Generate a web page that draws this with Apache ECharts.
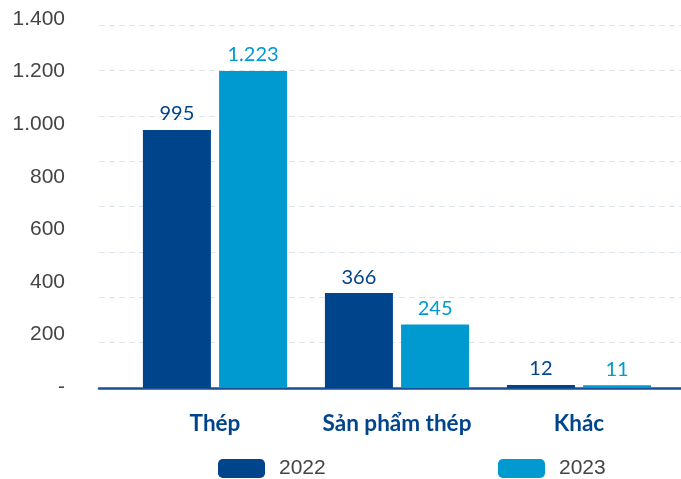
<!DOCTYPE html>
<html>
<head>
<meta charset="utf-8">
<script src="https://cdn.jsdelivr.net/npm/echarts@6/dist/echarts.min.js"></script>
<style>
  html, body { margin: 0; padding: 0; background: #fff; }
  #chart { width: 681px; height: 479px; }
</style>
</head>
<body>
<div id="chart"></div>
<script>
// data
const categories = ['Thép', 'Sản phẩm thép', 'Khác']
const years = ['2022', '2023']
const values2022 = [995, 366, 12]
const values2023 = [1223, 245, 11]

const darkBlue = '#00448c'
const lightBlue = '#009ad0'

// 1.400 / 200 / - style labels
function fmtTick(v) {
  if (v === 0) return '-'
  return String(v).replace(/\B(?=(\d{3})+(?!\d))/g, '.')
}

const legendBase = {
  top: 453,
  itemWidth: 47,
  itemHeight: 19,
  icon: 'roundRect',
  textStyle: { fontSize: 21, color: '#444', fontFamily: 'Liberation Sans', padding: [0, 0, 0, 9] }
}

const myChart = echarts.init(document.getElementById('chart'))
const option = {
  animation: false,
  textStyle: { fontFamily: 'Lato' },
  legend: [
    Object.assign({}, legendBase, { data: [years[0]], left: 213 }),
    Object.assign({}, legendBase, { data: [years[1]], left: 493 })
  ],
  grid: [
    // gridlines + axis line
    { left: 99, right: 0, top: 25, bottom: 91 },
    // y tick labels
    { left: 99, right: 0, top: 19, bottom: 92 },
    // bars
    { left: 124, right: 11, top: 25, bottom: 91 }
  ],
  xAxis: [
    {
      gridIndex: 0, type: 'value', min: 0, max: 1,
      axisLine: { show: true, lineStyle: { color: '#1b4f96', width: 2.5 } },
      axisTick: { show: false }, axisLabel: { show: false }, splitLine: { show: false }
    },
    {
      gridIndex: 1, type: 'value', min: 0, max: 1, show: false
    },
    {
      gridIndex: 2, type: 'category', data: categories,
      axisLine: { show: false }, axisTick: { show: false },
      axisLabel: { interval: 0, color: darkBlue, fontSize: 22.5, fontWeight: 'bold', fontFamily: 'Lato', margin: 24 }
    }
  ],
  yAxis: [
    {
      gridIndex: 0, type: 'value', min: 0, max: 1400, interval: 175,
      axisLine: { show: false }, axisTick: { show: false }, axisLabel: { show: false },
      splitLine: { show: true, lineStyle: { color: '#dde4ec', type: [6, 4], width: 1 } }
    },
    {
      gridIndex: 1, type: 'value', min: 0, max: 1400, interval: 200,
      axisLine: { show: false }, axisTick: { show: false }, splitLine: { show: false },
      axisLabel: { color: '#444', fontSize: 21, fontFamily: 'Liberation Sans', margin: 34, formatter: fmtTick }
    },
    {
      gridIndex: 2, type: 'value', min: 0, max: 1400, show: false
    }
  ],
  series: [
    {
      name: years[0],
      type: 'bar',
      xAxisIndex: 2,
      yAxisIndex: 2,
      data: values2022,
      barWidth: 68,
      barGap: '12%',
      itemStyle: { color: darkBlue },
      label: { show: true, position: 'top', distance: 6, color: darkBlue, fontSize: 20, formatter: p => fmtTick(p.value) }
    },
    {
      name: years[1],
      type: 'bar',
      xAxisIndex: 2,
      yAxisIndex: 2,
      data: values2023,
      barWidth: 68,
      barGap: '12%',
      itemStyle: { color: lightBlue },
      label: { show: true, position: 'top', distance: 6, color: lightBlue, fontSize: 20, formatter: p => fmtTick(p.value) }
    }
  ]
}
myChart.setOption(option)
</script>
</body>
</html>
